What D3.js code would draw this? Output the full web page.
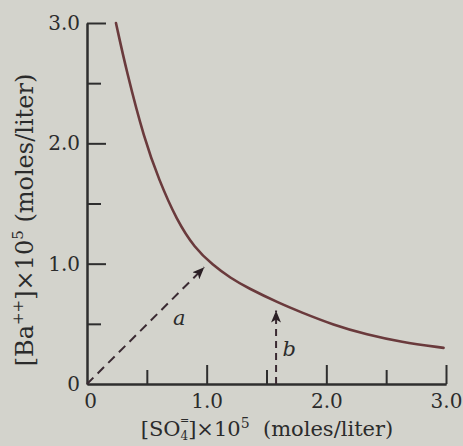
<!DOCTYPE html>
<html>
<head>
<meta charset="utf-8">
<script src="https://cdn.jsdelivr.net/npm/d3@7"></script>
<style>
  html, body { margin: 0; padding: 0; background: #d3d3cc; }
  svg { display: block; }
  text { font-family: "DejaVu Serif", serif; fill: #2b2b2b; }
</style>
</head>
<body>
<svg id="chart" width="463" height="446"></svg>
<script>
// Solubility curve of BaSO4: [Ba++] vs [SO4=], both x 10^5 mol/L
const sulfate = [0.242, 0.33, 0.48, 0.60, 0.75, 0.90, 1.05, 1.20, 1.34, 1.61, 1.78, 2.06, 2.34, 2.62, 2.98];
const barium  = [3.00, 2.60, 2.03, 1.70, 1.36, 1.13, 0.99, 0.88, 0.80, 0.67, 0.60, 0.49, 0.41, 0.35, 0.30];

const majorTicks = [0, 1, 2, 3];
const majorLabels = ["0", "1.0", "2.0", "3.0"];
const minorTicks = [0.5, 1.5, 2.5];

// Path a: equal additions from the origin; path b: adding Ba++ at fixed SO4=
const arrowA = { from: [0, 0], to: [0.98, 0.97], label: "a", labelAt: [0.77, 0.49] };
const arrowB = { from: [1.58, 0], to: [1.58, 0.61], label: "b", labelAt: [1.69, 0.23] };

const svg = d3.select("#chart");
const x = d3.scaleLinear().domain([0, 3]).range([87, 446]);
const y = d3.scaleLinear().domain([0, 3]).range([384, 23]);

const axisColor = "#2e2e2e";

// arrowhead marker
svg.append("defs").append("marker")
  .attr("id", "head")
  .attr("viewBox", "0 0 12 10")
  .attr("refX", 12).attr("refY", 5)
  .attr("markerWidth", 12).attr("markerHeight", 10)
  .attr("markerUnits", "userSpaceOnUse")
  .attr("orient", "auto")
  .append("path")
  .attr("d", "M0,0 L12,5 L0,10 L3,5 Z")
  .attr("fill", "#2a1f24");

// x axis: major ticks with labels, minor ticks without
const xMajor = svg.append("g").attr("transform", `translate(0,${y(0)})`)
  .call(d3.axisBottom(x).tickValues(majorTicks)
    .tickFormat((d, i) => majorLabels[i])
    .tickSize(-19).tickSizeOuter(0).tickPadding(10));
const xMinor = svg.append("g").attr("transform", `translate(0,${y(0)})`)
  .call(d3.axisBottom(x).tickValues(minorTicks).tickFormat("")
    .tickSize(-14).tickSizeOuter(0));

const yMajor = svg.append("g").attr("transform", `translate(${x(0)},0)`)
  .call(d3.axisLeft(y).tickValues(majorTicks)
    .tickFormat((d, i) => majorLabels[i])
    .tickSize(-19).tickSizeOuter(0).tickPadding(7));
const yMinor = svg.append("g").attr("transform", `translate(${x(0)},0)`)
  .call(d3.axisLeft(y).tickValues(minorTicks).tickFormat("")
    .tickSize(-14).tickSizeOuter(0));

for (const g of [xMajor, xMinor, yMajor, yMinor]) {
  g.selectAll(".domain").attr("stroke", axisColor).attr("stroke-width", 2);
  g.selectAll(".tick line").attr("stroke", axisColor).attr("stroke-width", 2);
  g.selectAll(".tick text")
    .attr("font-family", "DejaVu Serif").attr("font-size", 20).attr("fill", "#2b2b2b");
}
// the zero ticks coincide with the axes; only their labels are kept
xMajor.selectAll(".tick").filter(d => d === 0).select("line").remove();
yMajor.selectAll(".tick").filter(d => d === 0).select("line").remove();
xMajor.selectAll(".tick").filter(d => d === 0).select("text").attr("x", 3);

// curve
const pts = sulfate.map((s, i) => [s, barium[i]]);
svg.append("path")
  .datum(pts)
  .attr("fill", "none")
  .attr("stroke", "#6a3a3c")
  .attr("stroke-width", 2.6)
  .attr("stroke-linecap", "round")
  .attr("d", d3.line().x(d => x(d[0])).y(d => y(d[1])).curve(d3.curveBasis));

// dashed arrows
for (const [arr, dash] of [[arrowA, "9,6"], [arrowB, "7,5"]]) {
  svg.append("line")
    .attr("x1", x(arr.from[0])).attr("y1", y(arr.from[1]))
    .attr("x2", x(arr.to[0])).attr("y2", y(arr.to[1]))
    .attr("stroke", "#3a2a32").attr("stroke-width", 2)
    .attr("stroke-dasharray", dash)
    .attr("marker-end", "url(#head)");
  svg.append("text")
    .attr("x", x(arr.labelAt[0])).attr("y", y(arr.labelAt[1]))
    .attr("font-size", 21).attr("font-style", "italic")
    .attr("text-anchor", "middle")
    .text(arr.label);
}

// x-axis title: [SO4=] x 10^5 (moles/liter), charge stacked over the subscript
const xTitle = svg.append("g");
const xt = xTitle.append("text")
  .attr("x", 267).attr("y", 436)
  .attr("text-anchor", "middle")
  .attr("font-size", 21);
xt.append("tspan").text("[SO");
xt.append("tspan").attr("class", "sub").attr("font-size", 12).attr("dy", 4).text("4");
xt.append("tspan").attr("dy", -4).text("]×10");
xt.append("tspan").attr("font-size", 14).attr("dy", -8).text("5");
xt.append("tspan").attr("dy", 8).text("\u00a0\u00a0(moles/liter)");
const subBox = xt.select(".sub").node().getBBox();
xTitle.append("text")
  .attr("x", subBox.x + subBox.width / 2).attr("y", 424)
  .attr("text-anchor", "middle")
  .attr("font-size", 11)
  .text("=");

// y-axis title: [Ba++] x 10^5 (moles/liter)
const yt = svg.append("text")
  .attr("transform", `translate(33,220) rotate(-90)`)
  .attr("text-anchor", "middle")
  .attr("font-size", 24);
yt.append("tspan").text("[Ba");
yt.append("tspan").attr("font-size", 15).attr("dy", -10).text("++");
yt.append("tspan").attr("dy", 10).text("]×10");
yt.append("tspan").attr("font-size", 15).attr("dy", -10).text("5");
yt.append("tspan").attr("dy", 10).text("\u00a0(moles/liter)");
</script>
</body>
</html>
